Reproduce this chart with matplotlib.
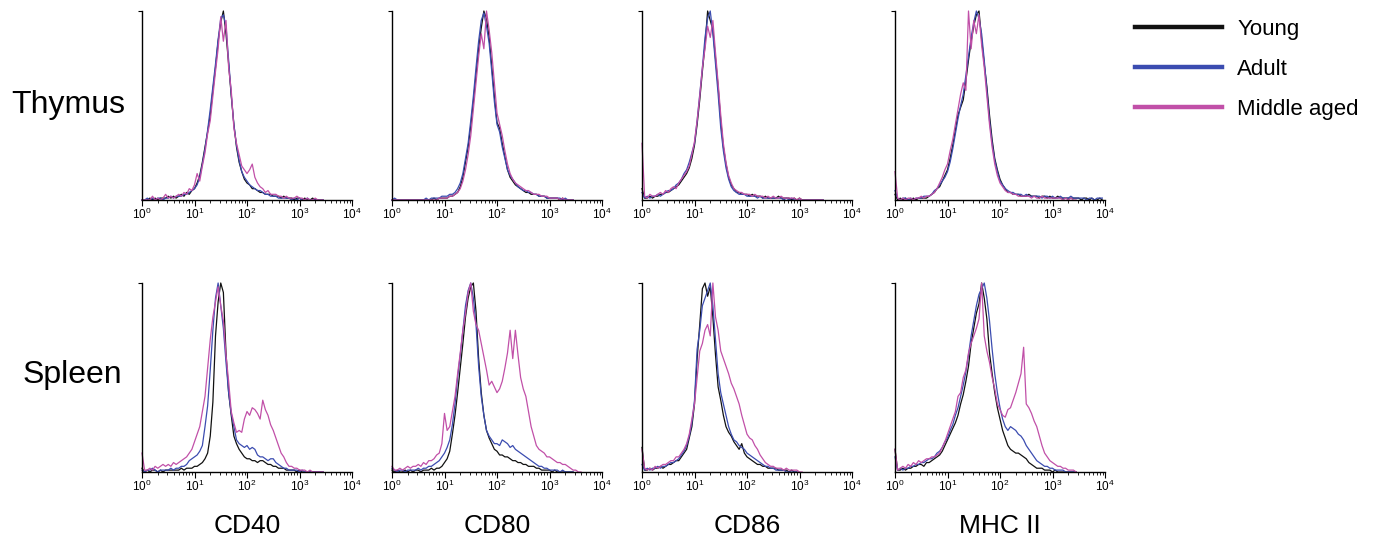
import numpy as np
import matplotlib
matplotlib.use("Agg")
import matplotlib.pyplot as plt
from matplotlib.ticker import LogLocator, LogFormatterMathtext, NullFormatter

plt.rcParams['font.family'] = ['Liberation Sans', 'DejaVu Sans']

# histogram counts (% of mode), one value per 0.05 decade starting at 10^0
CHANNEL_STEP = 0.05

markers = ['CD40', 'CD80', 'CD86', 'MHC II']
tissues = ['Thymus', 'Spleen']
groups = ['Young', 'Adult', 'Middle aged']

thymus_cd40_young = [0, 0, 0, 1, 0, 1, 0, 1, 1, 1,
                     2, 1, 2, 1, 2, 3, 2, 4, 3, 5,
                     6, 9, 13, 20, 28, 36, 45, 58, 70, 84,
                     94, 100, 88, 72, 55, 40, 28, 20, 15, 11,
                     9, 8, 6, 6, 5, 4, 4, 3, 3, 3,
                     2, 2, 2, 1, 2, 1, 1, 1, 0, 1,
                     1, 0, 1, 0, 0, 1, 0, 0, 0, 0]
thymus_cd40_adult = [0, 0, 1, 0, 1, 0, 1, 1, 0, 1,
                     1, 2, 1, 2, 2, 2, 3, 3, 4, 5,
                     6, 8, 12, 19, 27, 37, 48, 60, 72, 85,
                     96, 98, 92, 74, 56, 40, 29, 21, 15, 12,
                     10, 8, 7, 6, 5, 5, 4, 3, 3, 2,
                     2, 2, 1, 1, 1, 1, 1, 0, 1, 0,
                     1, 0, 0, 1, 0, 0, 0, 0, 0, 0]
thymus_cd40_middle = [0, 0, 0, 0, 2, 0, 1, 0, 1, 3,
                      1, 2, 1, 2, 3, 2, 4, 3, 6, 5,
                      8, 14, 10, 18, 25, 35, 42, 55, 68, 80,
                      97, 84, 95, 70, 58, 38, 30, 24, 18, 16,
                      14, 16, 19, 12, 9, 7, 6, 4, 5, 3,
                      3, 3, 2, 2, 1, 2, 1, 1, 1, 2,
                      1, 1, 0, 1, 0, 0, 1, 0, 0, 0]

thymus_cd80_young = [0, 0, 0, 0, 0, 0, 0, 0, 0, 0,
                     0, 0, 0, 0, 0, 0, 1, 0, 1, 1,
                     1, 1, 2, 2, 3, 4, 7, 12, 20, 28,
                     39, 52, 66, 80, 91, 100, 96, 86, 71, 55,
                     41, 38, 30, 23, 16, 12, 10, 8, 7, 6,
                     5, 4, 4, 3, 3, 3, 2, 2, 2, 1,
                     1, 1, 1, 1, 0, 1, 0, 0, 0, 0]
thymus_cd80_adult = [0, 1, 0, 0, 0, 0, 0, 0, 0, 0,
                     0, 0, 0, 1, 0, 1, 1, 1, 1, 2,
                     2, 2, 3, 3, 4, 6, 9, 14, 22, 30,
                     42, 55, 70, 84, 95, 99, 92, 83, 68, 52,
                     40, 36, 28, 22, 16, 13, 11, 9, 7, 6,
                     5, 5, 4, 4, 3, 3, 2, 2, 2, 1,
                     1, 1, 1, 1, 1, 0, 1, 0, 0, 0]
thymus_cd80_middle = [0, 0, 0, 0, 0, 0, 0, 0, 0, 0,
                      0, 0, 0, 0, 0, 0, 0, 0, 1, 1,
                      1, 1, 2, 2, 3, 4, 6, 10, 16, 24,
                      34, 48, 62, 76, 88, 80, 100, 90, 78, 62,
                      46, 40, 34, 26, 19, 14, 11, 9, 8, 7,
                      6, 5, 5, 4, 3, 3, 3, 2, 2, 2,
                      1, 1, 1, 1, 0, 1, 0, 0, 0, 0]

thymus_cd86_young = [6, 1, 1, 2, 1, 2, 2, 3, 3, 4,
                     4, 5, 6, 7, 8, 10, 12, 14, 17, 22,
                     29, 40, 53, 68, 82, 100, 95, 90, 75, 60,
                     42, 28, 19, 12, 8, 6, 4, 4, 3, 3,
                     3, 2, 3, 2, 2, 2, 1, 2, 1, 1,
                     1, 1, 2, 1, 1, 1, 1, 0, 1, 0,
                     1, 0, 0, 0, 0, 0, 0, 0, 0, 0]
thymus_cd86_adult = [4, 1, 2, 1, 2, 2, 3, 2, 3, 4,
                     5, 5, 6, 8, 9, 11, 14, 16, 20, 25,
                     30, 42, 56, 70, 86, 96, 100, 88, 72, 56,
                     38, 26, 17, 11, 7, 5, 4, 3, 3, 3,
                     2, 2, 2, 2, 1, 2, 1, 1, 1, 1,
                     1, 1, 1, 1, 0, 1, 0, 1, 0, 0,
                     0, 0, 0, 0, 0, 0, 0, 0, 0, 0]
thymus_cd86_middle = [30, 2, 1, 3, 2, 2, 3, 4, 3, 5,
                      4, 6, 7, 6, 9, 11, 13, 15, 18, 24,
                      31, 42, 55, 70, 80, 92, 86, 95, 78, 62,
                      45, 30, 20, 13, 9, 6, 5, 4, 4, 3,
                      3, 3, 2, 3, 2, 2, 2, 1, 2, 1,
                      2, 1, 1, 2, 1, 1, 1, 1, 1, 0,
                      1, 0, 0, 0, 0, 0, 0, 0, 0, 0]

thymus_mhc_young = [3, 0, 1, 0, 1, 0, 0, 1, 0, 1,
                    1, 1, 1, 2, 3, 4, 6, 7, 10, 13,
                    16, 22, 29, 37, 45, 49, 53, 63, 74, 84,
                    92, 98, 100, 85, 72, 60, 45, 32, 22, 16,
                    11, 8, 6, 4, 4, 3, 3, 3, 2, 2,
                    2, 3, 2, 2, 2, 1, 2, 2, 1, 2,
                    1, 1, 2, 1, 1, 1, 1, 1, 1, 1,
                    1, 0, 1, 1, 0, 1, 0, 0, 1, 0]
thymus_mhc_adult = [5, 1, 0, 1, 1, 0, 1, 0, 1, 1,
                    1, 2, 2, 2, 3, 5, 6, 8, 10, 12,
                    15, 20, 27, 35, 43, 50, 56, 66, 76, 86,
                    94, 100, 96, 88, 74, 58, 42, 30, 21, 15,
                    10, 8, 6, 5, 4, 4, 3, 3, 3, 2,
                    3, 2, 2, 2, 2, 2, 1, 2, 2, 1,
                    2, 1, 1, 2, 1, 1, 1, 2, 1, 1,
                    1, 1, 1, 0, 1, 1, 0, 1, 1, 1]
thymus_mhc_middle = [15, 1, 0, 1, 0, 1, 1, 0, 1, 1,
                     2, 1, 2, 2, 3, 4, 6, 9, 12, 16,
                     19, 26, 32, 40, 48, 56, 62, 58, 100, 80,
                     95, 88, 98, 82, 70, 55, 40, 28, 19, 13,
                     9, 7, 5, 4, 4, 3, 3, 2, 2, 2,
                     2, 2, 1, 2, 1, 1, 2, 1, 1, 1,
                     1, 1, 1, 1, 0, 1, 0, 1, 0, 0]

spleen_cd40_young = [2, 0, 1, 0, 1, 1, 0, 1, 0, 1,
                     1, 1, 1, 1, 1, 2, 1, 2, 2, 2,
                     3, 3, 4, 5, 7, 10, 19, 37, 72, 90,
                     100, 95, 63, 42, 30, 19, 15, 12, 10, 8,
                     7, 7, 6, 6, 5, 6, 6, 5, 4, 4,
                     3, 3, 2, 2, 2, 1, 1, 1, 1, 0,
                     1, 0, 0, 0, 0, 0, 0, 0, 0, 0]
spleen_cd40_adult = [1, 0, 1, 1, 2, 1, 0, 1, 1, 1,
                     1, 2, 1, 2, 2, 3, 3, 4, 6, 7,
                     8, 9, 11, 14, 24, 35, 54, 75, 92, 100,
                     88, 76, 58, 42, 31, 24, 17, 15, 14, 13,
                     14, 12, 13, 12, 9, 8, 8, 7, 6, 7,
                     7, 5, 4, 3, 2, 2, 1, 1, 1, 1,
                     0, 1, 0, 0, 0, 0, 0, 0, 0, 0]
spleen_cd40_middle = [10, 1, 1, 2, 1, 3, 2, 3, 4, 3,
                      4, 3, 5, 4, 5, 6, 7, 8, 10, 12,
                      16, 20, 24, 32, 40, 55, 70, 82, 90, 98,
                      88, 80, 62, 48, 32, 26, 21, 22, 21, 28,
                      32, 30, 34, 33, 31, 28, 38, 33, 30, 25,
                      22, 18, 14, 10, 8, 5, 3, 3, 2, 2,
                      1, 1, 1, 0, 1, 0, 0, 0, 0, 0]

spleen_cd80_young = [1, 0, 1, 0, 0, 1, 0, 1, 0, 1,
                     1, 0, 1, 1, 1, 2, 1, 2, 2, 3,
                     5, 7, 11, 20, 30, 42, 55, 68, 82, 92,
                     98, 100, 85, 60, 42, 30, 22, 18, 15, 12,
                     11, 9, 9, 8, 8, 7, 6, 6, 5, 5,
                     4, 4, 3, 3, 3, 2, 2, 1, 1, 1,
                     1, 0, 1, 0, 0, 0, 0, 0, 0, 0]
spleen_cd80_adult = [2, 1, 0, 1, 1, 0, 1, 1, 1, 1,
                     2, 1, 2, 2, 3, 3, 4, 5, 6, 8,
                     10, 13, 17, 25, 36, 50, 62, 75, 88, 96,
                     100, 92, 78, 56, 40, 30, 22, 19, 17, 15,
                     15, 14, 17, 16, 15, 13, 14, 12, 11, 10,
                     9, 8, 7, 6, 5, 4, 3, 3, 2, 2,
                     1, 1, 1, 1, 0, 1, 0, 0, 0, 0]
spleen_cd80_middle = [3, 1, 1, 2, 1, 2, 3, 2, 3, 3,
                      4, 3, 5, 4, 6, 6, 7, 9, 10, 15,
                      31, 22, 24, 32, 40, 52, 63, 75, 84, 95,
                      100, 85, 78, 75, 68, 61, 54, 46, 48, 45,
                      42, 44, 48, 55, 63, 75, 60, 75, 62, 50,
                      44, 40, 32, 24, 19, 14, 12, 11, 10, 8,
                      8, 7, 6, 5, 5, 4, 4, 3, 2, 1,
                      1, 0, 0]

spleen_cd86_young = [13, 1, 1, 2, 1, 2, 2, 3, 2, 3,
                     4, 4, 5, 6, 6, 8, 10, 12, 18, 24,
                     36, 60, 78, 97, 100, 93, 98, 82, 62, 45,
                     38, 30, 24, 21, 19, 16, 14, 12, 15, 10,
                     8, 7, 6, 5, 4, 4, 3, 3, 2, 2,
                     2, 2, 1, 1, 1, 1, 0, 1, 0, 0]
spleen_cd86_adult = [4, 1, 2, 1, 2, 2, 3, 2, 3, 3,
                     4, 5, 5, 6, 7, 9, 11, 14, 19, 26,
                     38, 65, 75, 88, 92, 96, 100, 88, 70, 52,
                     42, 36, 30, 24, 20, 17, 16, 14, 13, 12,
                     10, 9, 8, 7, 6, 5, 4, 3, 3, 2,
                     2, 1, 1, 1, 1, 0, 0, 0, 0, 0]
spleen_cd86_middle = [12, 2, 1, 2, 1, 3, 2, 3, 4, 4,
                      5, 6, 6, 8, 8, 10, 12, 15, 20, 28,
                      36, 50, 64, 68, 75, 78, 72, 100, 82, 75,
                      64, 60, 56, 52, 47, 44, 40, 36, 30, 25,
                      20, 18, 17, 14, 12, 9, 7, 5, 4, 3,
                      3, 2, 2, 2, 1, 2, 1, 1, 1, 1,
                      0, 0]

spleen_mhc_young = [12, 1, 1, 2, 1, 2, 2, 3, 3, 4,
                    4, 3, 5, 5, 6, 7, 8, 9, 11, 14,
                    17, 20, 23, 26, 30, 36, 41, 48, 56, 68,
                    76, 84, 89, 100, 92, 81, 63, 52, 42, 34,
                    28, 22, 18, 14, 12, 11, 10, 10, 9, 8,
                    7, 5, 4, 3, 2, 2, 2, 1, 1, 1,
                    0, 1, 0, 0, 0, 0, 0, 0, 0, 0]
spleen_mhc_adult = [8, 1, 2, 1, 2, 2, 3, 3, 4, 4,
                    5, 5, 6, 7, 7, 8, 10, 11, 13, 16,
                    18, 22, 25, 30, 34, 40, 46, 53, 62, 72,
                    80, 88, 94, 97, 100, 92, 80, 65, 52, 42,
                    34, 28, 24, 22, 24, 23, 22, 20, 19, 17,
                    14, 12, 10, 8, 6, 5, 4, 3, 3, 2,
                    2, 1, 1, 1, 1, 0, 0, 0, 0, 0]
spleen_mhc_middle = [12, 1, 2, 3, 2, 4, 3, 5, 4, 6,
                     5, 6, 7, 7, 8, 8, 9, 10, 13, 16,
                     20, 24, 28, 32, 40, 42, 50, 54, 63, 68,
                     72, 76, 81, 100, 72, 64, 58, 50, 44, 36,
                     33, 30, 29, 33, 34, 38, 42, 47, 52, 66,
                     36, 34, 31, 27, 24, 19, 14, 10, 8, 6,
                     5, 4, 3, 3, 2, 2, 1, 1, 1, 0]

histograms = {
    ('Thymus', 'CD40'): [thymus_cd40_young, thymus_cd40_adult, thymus_cd40_middle],
    ('Thymus', 'CD80'): [thymus_cd80_young, thymus_cd80_adult, thymus_cd80_middle],
    ('Thymus', 'CD86'): [thymus_cd86_young, thymus_cd86_adult, thymus_cd86_middle],
    ('Thymus', 'MHC II'): [thymus_mhc_young, thymus_mhc_adult, thymus_mhc_middle],
    ('Spleen', 'CD40'): [spleen_cd40_young, spleen_cd40_adult, spleen_cd40_middle],
    ('Spleen', 'CD80'): [spleen_cd80_young, spleen_cd80_adult, spleen_cd80_middle],
    ('Spleen', 'CD86'): [spleen_cd86_young, spleen_cd86_adult, spleen_cd86_middle],
    ('Spleen', 'MHC II'): [spleen_mhc_young, spleen_mhc_adult, spleen_mhc_middle],
}

colors = ['#111111', '#3b4cb0', '#c150a8']

W, H = 1376, 539
fig = plt.figure(figsize=(W / 100, H / 100), dpi=100)

col_left = [142, 392, 642, 895]
row_top = [11, 283]
panel_w, panel_h = 210, 189

for r, tissue in enumerate(tissues):
    for c, marker in enumerate(markers):
        ax = fig.add_axes([col_left[c] / W, 1 - (row_top[r] + panel_h) / H,
                           panel_w / W, panel_h / H])
        # middle aged drawn last so it sits on top, as in the original
        for vals, color in zip(histograms[(tissue, marker)], colors):
            vals = np.array(vals, dtype=float)
            x = 10 ** (np.arange(len(vals)) * CHANNEL_STEP)
            ax.plot(x, vals, color=color, lw=0.9, clip_on=False)
        ax.set_xscale('log')
        ax.set_xlim(1, 1e4)
        ax.set_ylim(0, 100)
        for side in ['top', 'right']:
            ax.spines[side].set_visible(False)
        ax.spines['left'].set_linewidth(1.0)
        ax.spines['bottom'].set_linewidth(1.0)
        ax.xaxis.set_major_locator(LogLocator(base=10, numticks=10))
        ax.xaxis.set_minor_locator(LogLocator(base=10, subs=np.arange(2, 10), numticks=20))
        ax.xaxis.set_major_formatter(LogFormatterMathtext())
        ax.xaxis.set_minor_formatter(NullFormatter())
        ax.tick_params(axis='x', which='major', direction='out', length=4, width=0.8,
                       labelsize=8.5, pad=1)
        ax.tick_params(axis='x', which='minor', direction='out', length=2.5, width=0.6)
        ax.set_yticks([100])
        ax.set_yticklabels([])
        ax.tick_params(axis='y', direction='out', length=3, width=0.8)
        ax.patch.set_alpha(0)
        if r == 1:
            ax.set_xlabel(marker, fontsize=19, labelpad=14)

fig.text(68 / W, 1 - 105 / H, 'Thymus', fontsize=23, ha='center', va='center')
fig.text(72 / W, 1 - 375 / H, 'Spleen', fontsize=23, ha='center', va='center')

handles = [plt.Line2D([], [], color=col, lw=3.2) for col in colors]
fig.legend(handles, groups, loc='upper left', bbox_to_anchor=(1135 / W, 1 - 19 / H),
           frameon=False, fontsize=16, handlelength=3.9, handletextpad=0.7,
           labelspacing=0.85, borderpad=0, borderaxespad=0)

fig.savefig('out.png', dpi=100)
